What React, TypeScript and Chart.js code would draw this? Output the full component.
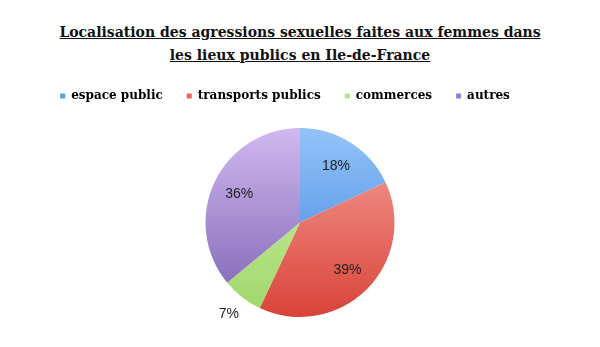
import React, { useEffect, useRef } from "react";
import { Chart, registerables } from "chart.js";

Chart.register(...registerables);

const titleLines = [
  "Localisation des agressions sexuelles faites aux femmes dans",
  "les lieux publics en Ile-de-France",
];
const categories = ["espace public", "transports publics", "commerces", "autres"];
const values = [18, 39, 7, 36];
const valueLabels = ["18%", "39%", "7%", "36%"];
const topColors = ["#93c3f9", "#f7a39c", "#d2f4a8", "#cfb9ef"];
const bottomColors = ["#3a80dc", "#d94338", "#9fd56a", "#7c60b2"];
const legendColors = ["#5d9cea", "#ea625c", "#b5e084", "#9a7fcd"];

const labelPlugin = {
  id: "sliceLabels",
  afterDatasetsDraw(chart: any) {
    const ctx = chart.ctx;
    const meta = chart.getDatasetMeta(0);
    ctx.save();
    ctx.font = "14px 'Liberation Sans', Arial, sans-serif";
    ctx.fillStyle = "#222222";
    ctx.textAlign = "center";
    ctx.textBaseline = "middle";
    meta.data.forEach((arc: any, i: number) => {
      const mid = (arc.startAngle + arc.endAngle) / 2;
      const f = values[i] < 10 ? 1.23 : 0.71;
      const x = arc.x + Math.cos(mid) * arc.outerRadius * f;
      const y = arc.y + Math.sin(mid) * arc.outerRadius * f;
      ctx.fillText(valueLabels[i], x, y);
    });
    ctx.restore();
  },
};

const legendSpacing = {
  id: "legendSpacing",
  beforeInit(chart: any) {
    const orig = chart.legend.fit;
    chart.legend.fit = function () {
      orig.call(this);
      this.height += 16;
    };
  },
  afterLayout(chart: any) {
    chart.legend.left -= 15;
    chart.legend.right -= 15;
  },
};

export default function App() {
  const ref = useRef<HTMLCanvasElement>(null);
  useEffect(() => {
    if (!ref.current) return;
    const chart = new Chart(ref.current, {
      type: "pie",
      data: {
        labels: categories,
        datasets: [
          {
            data: values,
            borderWidth: 0,
            backgroundColor: (c: any) => {
              const i = c.dataIndex;
              const area = c.chart.chartArea;
              if (!area) return legendColors[i];
              const g = c.chart.ctx.createLinearGradient(0, area.top, 0, area.bottom);
              g.addColorStop(0, topColors[i]);
              g.addColorStop(1, bottomColors[i]);
              return g;
            },
          },
        ],
      },
      options: {
        responsive: false,
        animation: false,
        layout: { padding: { top: 66, bottom: 30, left: 0, right: 0 } },
        plugins: {
          title: { display: false },
          tooltip: { enabled: false },
          legend: {
            position: "top",
            labels: {
              boxWidth: 5,
              boxHeight: 5,
              padding: 24,
              color: "#111111",
              font: { family: "'DejaVu Serif', serif", size: 12, weight: "bold" },
              generateLabels: () =>
                categories.map((t, i) => ({
                  text: t,
                  fillStyle: legendColors[i],
                  strokeStyle: legendColors[i],
                  lineWidth: 0,
                  hidden: false,
                  index: i,
                })),
            },
          },
        },
      },
      plugins: [labelPlugin, legendSpacing],
    });
    return () => chart.destroy();
  }, []);
  return (
    <div style={{ position: "fixed", left: 0, top: 0, width: 600, height: 347, background: "#fff" }}>
      <div
        style={{
          position: "absolute",
          left: 0,
          top: 21,
          width: 600,
          textAlign: "center",
          fontFamily: "'DejaVu Serif', serif",
          fontWeight: "bold",
          fontSize: 14,
          lineHeight: "23px",
          color: "#111",
          textDecoration: "underline",
        }}
      >
        {titleLines[0]}
        <br />
        {titleLines[1]}
      </div>
      <canvas ref={ref} width={600} height={347} style={{ position: "absolute", left: 0, top: 0 }} />
    </div>
  );
}
